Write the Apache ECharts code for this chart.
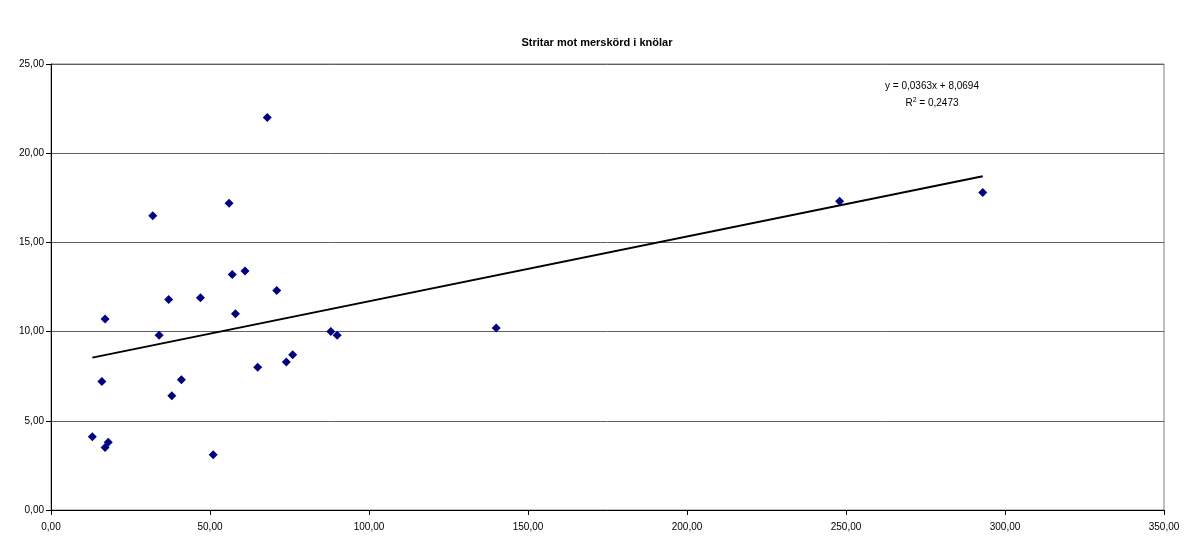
<!DOCTYPE html>
<html>
<head>
<meta charset="utf-8">
<script src="https://cdn.jsdelivr.net/npm/echarts@6/dist/echarts.min.js"></script>
<style>html,body{margin:0;padding:0;background:#fff}#c{width:1194px;height:538px}</style>
</head>
<body>
<div id="c"></div>
<script>
var titleText = 'Stritar mot merskörd i knölar';
var xValues = [13, 17, 18, 17, 16, 32, 34, 37, 38, 41, 47, 51, 56, 57, 58, 61, 65, 68, 71, 74, 76, 88, 90, 140, 248, 293];
var yValues = [4.1, 3.5, 3.8, 10.7, 7.2, 16.5, 9.8, 11.8, 6.4, 7.3, 11.9, 3.1, 17.2, 13.2, 11.0, 13.4, 8.0, 22.0, 12.3, 8.3, 8.7, 10.0, 9.8, 10.2, 17.3, 17.8];
var trendSlope = 0.0363;
var trendIntercept = 8.0694;
var eqLine1 = 'y = 0,0363x + 8,0694';
var eqLine2 = 'R{sup|2} = 0,2473';

var pts = xValues.map(function(x,i){return [x, yValues[i]];});
var xmin = Math.min.apply(null, xValues), xmax = Math.max.apply(null, xValues);
var trend = [[xmin, trendSlope*xmin+trendIntercept],[xmax, trendSlope*xmax+trendIntercept]];
function fmt(v){return v.toFixed(2).replace('.', ',');}
var font = 'Liberation Sans, Arial, sans-serif';
var chart = echarts.init(document.getElementById('c'), null, {renderer:'canvas'});
chart.setOption({
  animation:false,
  backgroundColor:'#fff',
  title:{text:titleText, left:'center', top:32, textStyle:{fontFamily:font, fontSize:11, fontWeight:'bold', color:'#000'}},
  grid:{left:51, right:30, top:64, bottom:28, show:true, borderColor:'#808080', borderWidth:1},
  xAxis:{type:'value', min:0, max:350, interval:50,
    axisLine:{show:true, onZero:false, lineStyle:{color:'#000', width:1}},
    axisTick:{show:true, length:5, lineStyle:{color:'#000'}},
    axisLabel:{formatter:fmt, fontFamily:font, fontSize:10, color:'#000', margin:12},
    splitLine:{show:false}},
  yAxis:{type:'value', min:0, max:25, interval:5,
    axisLine:{show:true, onZero:false, lineStyle:{color:'#000', width:1}},
    axisTick:{show:true, length:5, lineStyle:{color:'#000'}},
    axisLabel:{formatter:fmt, fontFamily:font, fontSize:10, color:'#000', margin:7},
    splitLine:{show:true, lineStyle:{color:'#606060', width:1}}},
  series:[
    {type:'line', data:trend, symbol:'none', lineStyle:{color:'#000', width:2}, z:3},
    {type:'scatter', data:pts, symbol:'diamond', symbolSize:9, itemStyle:{color:'#000080', opacity:1}, z:4}
  ],
  graphic:[
    {type:'text', x:932, y:81, style:{text:eqLine1, fontFamily:font, fontSize:10, fill:'#000', textAlign:'center'}},
    {type:'text', x:932, y:97, style:{text:eqLine2, fontFamily:font, fontSize:10, fill:'#000', textAlign:'center',
      rich:{sup:{fontSize:7, verticalAlign:'top', padding:[0,0,5,0], fontFamily:font, fill:'#000'}}}}
  ]
});
</script>
</body>
</html>
